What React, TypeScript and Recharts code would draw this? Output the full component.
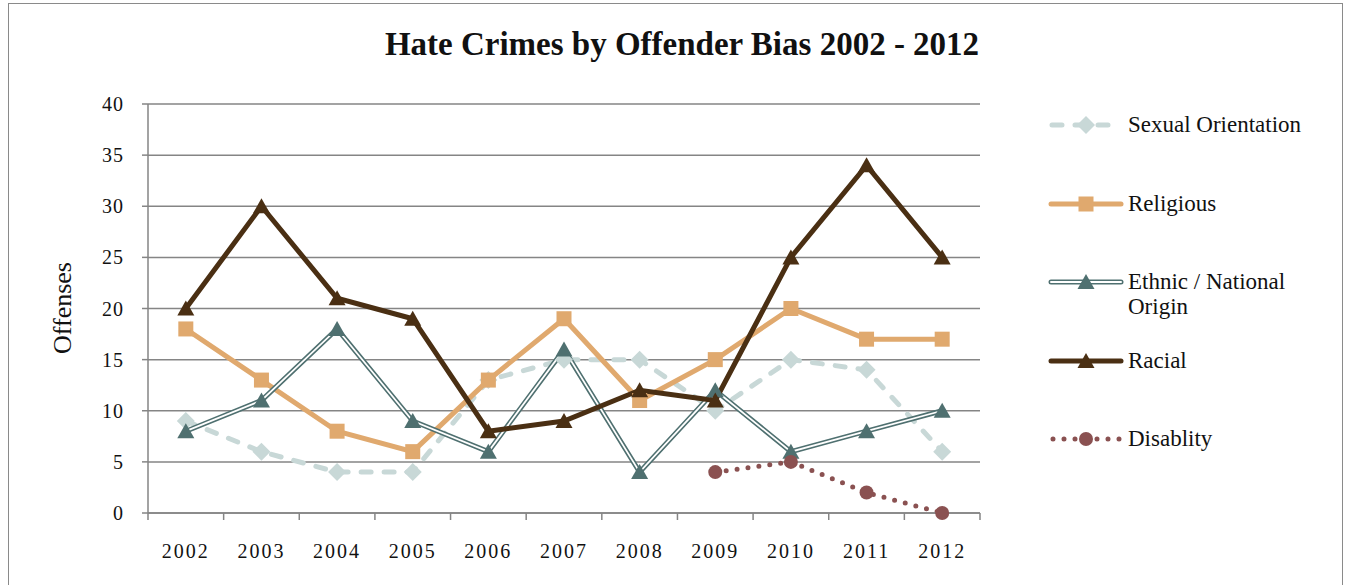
import { ComposedChart, Line, XAxis, YAxis, CartesianGrid } from 'recharts';

const years = ['2002', '2003', '2004', '2005', '2006', '2007', '2008', '2009', '2010', '2011', '2012'];
const sexualOrientation = [9, 6, 4, 4, 13, 15, 15, 10, 15, 14, 6];
const religious = [18, 13, 8, 6, 13, 19, 11, 15, 20, 17, 17];
const ethnic = [8, 11, 18, 9, 6, 16, 4, 12, 6, 8, 10];
const racial = [20, 30, 21, 19, 8, 9, 12, 11, 25, 34, 25];
const disability = [null, null, null, null, null, null, null, 4, 5, 2, 0];
const yTicks = [0, 5, 10, 15, 20, 25, 30, 35, 40];

const data = years.map((year, i) => ({
  year,
  sexual: sexualOrientation[i],
  religious: religious[i],
  ethnic: ethnic[i],
  racial: racial[i],
  disability: disability[i],
}));

const W = 1352;
const H = 585;
const M = { top: 104, right: 372, bottom: 0, left: 0 };
const Y_AXIS_W = 148;
const X_AXIS_H = 72;
const BAND = (W - M.right - Y_AXIS_W) / years.length;

const FONT = '"Liberation Serif", serif';
const GRID = '#858585';
const C_SEX = '#c8d8d7';
const C_REL = '#e0a96e';
const C_ETH = '#4f7070';
const C_RAC = '#4a2f13';
const C_DIS = '#8a5151';

type Shape = 'diamond' | 'square' | 'triangle' | 'circle';

function marker(shape: Shape, color: string, cx: number, cy: number, key?: string) {
  if (shape === 'diamond') {
    const s = 9;
    return <path key={key} d={`M${cx},${cy - s}L${cx + s},${cy}L${cx},${cy + s}L${cx - s},${cy}Z`} fill={color} />;
  }
  if (shape === 'square') {
    const s = 7.5;
    return <rect key={key} x={cx - s} y={cy - s} width={s * 2} height={s * 2} fill={color} />;
  }
  if (shape === 'triangle') {
    return (
      <path key={key} d={`M${cx},${cy - 8}L${cx + 8.5},${cy + 7}L${cx - 8.5},${cy + 7}Z`} fill={color} />
    );
  }
  return <circle key={key} cx={cx} cy={cy} r={7} fill={color} />;
}

const dotFor = (shape: Shape, color: string) => (props: any) => {
  const { cx, cy, index, value } = props;
  if (cx == null || cy == null || value == null || Number.isNaN(cy)) return <g key={`e${index}`} />;
  return marker(shape, color, cx, cy, `d${index}`);
};

const XTick = (props: any) => {
  const { x, y, payload, index } = props;
  const left = x - BAND / 2;
  return (
    <g>
      <line x1={left} x2={left} y1={y} y2={y + 7} stroke={GRID} strokeWidth={1.5} />
      {index === years.length - 1 && (
        <line x1={x + BAND / 2} x2={x + BAND / 2} y1={y} y2={y + 7} stroke={GRID} strokeWidth={1.5} />
      )}
      <text x={x} y={y + 45} textAnchor="middle" fontFamily={FONT} fontSize={20} letterSpacing={2} fill="#111">
        {payload.value}
      </text>
    </g>
  );
};

const legendItems = [
  { name: 'Sexual Orientation', kind: 'sexual' },
  { name: 'Religious', kind: 'religious' },
  { name: 'Ethnic / National Origin', kind: 'ethnic' },
  { name: 'Racial', kind: 'racial' },
  { name: 'Disablity', kind: 'disability' },
];

function LegendIcon({ kind }: { kind: string }) {
  const y = 13;
  return (
    <svg width={76} height={26} style={{ flex: 'none' }}>
      {kind === 'sexual' && (
        <>
          <line x1={4} x2={72} y1={y} y2={y} stroke={C_SEX} strokeWidth={5} strokeDasharray="10 13" strokeLinecap="round" />
          {marker('diamond', C_SEX, 38, y)}
        </>
      )}
      {kind === 'religious' && (
        <>
          <line x1={3} x2={73} y1={y} y2={y} stroke={C_REL} strokeWidth={5} strokeLinecap="round" />
          {marker('square', C_REL, 38, y)}
        </>
      )}
      {kind === 'ethnic' && (
        <>
          <line x1={3} x2={73} y1={y} y2={y} stroke={C_ETH} strokeWidth={5} strokeLinecap="round" />
          <line x1={3} x2={73} y1={y} y2={y} stroke="#fff" strokeWidth={2} strokeLinecap="round" />
          {marker('triangle', C_ETH, 38, y)}
        </>
      )}
      {kind === 'racial' && (
        <>
          <line x1={3} x2={73} y1={y} y2={y} stroke={C_RAC} strokeWidth={5} strokeLinecap="round" />
          {marker('triangle', C_RAC, 38, y)}
        </>
      )}
      {kind === 'disability' && (
        <>
          <line x1={5} x2={72} y1={y} y2={y} stroke={C_DIS} strokeWidth={5} strokeDasharray="0 11" strokeLinecap="round" />
          {marker('circle', C_DIS, 38, y)}
        </>
      )}
    </svg>
  );
}

export default function App() {
  return (
    <div style={{ position: 'absolute', left: 0, top: 0, width: W, height: H, overflow: 'hidden', background: '#fff' }}>
      <div
        style={{
          position: 'absolute',
          left: 8,
          top: 3,
          width: 1335,
          height: 640,
          border: '1px solid #8a8a8a',
          boxSizing: 'border-box',
        }}
      />
      <div
        style={{
          position: 'absolute',
          left: 0,
          width: W,
          top: 26,
          textAlign: 'center',
          fontFamily: FONT,
          fontWeight: 'bold',
          fontSize: 33,
          color: '#111',
          paddingLeft: 6,
        }}
      >
        Hate Crimes by Offender Bias 2002 - 2012
      </div>
      <div
        style={{
          position: 'absolute',
          left: 63,
          top: 308,
          transform: 'translate(-50%, -50%) rotate(-90deg)',
          fontFamily: FONT,
          fontSize: 26,
          color: '#111',
          whiteSpace: 'nowrap',
        }}
      >
        Offenses
      </div>
      <ComposedChart width={W} height={H} data={data} margin={M} style={{ position: 'absolute', left: 0, top: 0 }}>
        <CartesianGrid vertical={false} stroke={GRID} strokeWidth={1.5} />
        <XAxis
          dataKey="year"
          height={X_AXIS_H}
          padding={{ left: BAND / 2, right: BAND / 2 }}
          axisLine={{ stroke: GRID, strokeWidth: 1.5 }}
          tickLine={false}
          tickSize={0}
          tickMargin={0}
          tick={<XTick />}
          interval={0}
        />
        <YAxis
          width={Y_AXIS_W}
          domain={[0, 40]}
          ticks={yTicks}
          interval={0}
          axisLine={{ stroke: GRID, strokeWidth: 1.5 }}
          tickLine={{ stroke: GRID, strokeWidth: 1.5 }}
          tickSize={6}
          tickMargin={18}
          tick={{ fontFamily: FONT, fontSize: 20, fill: '#111', letterSpacing: 1 }}
        />
        <Line
          dataKey="sexual"
          type="linear"
          stroke={C_SEX}
          strokeWidth={5}
          strokeDasharray="10 13"
          strokeLinecap="round"
          dot={dotFor('diamond', C_SEX)}
          activeDot={false}
          isAnimationActive={false}
        />
        <Line
          dataKey="religious"
          type="linear"
          stroke={C_REL}
          strokeWidth={5}
          dot={dotFor('square', C_REL)}
          activeDot={false}
          isAnimationActive={false}
        />
        <Line
          dataKey="ethnic"
          type="linear"
          stroke={C_ETH}
          strokeWidth={5}
          dot={false}
          activeDot={false}
          isAnimationActive={false}
        />
        <Line
          dataKey="ethnic"
          type="linear"
          stroke="#fff"
          strokeWidth={1.8}
          dot={dotFor('triangle', C_ETH)}
          activeDot={false}
          isAnimationActive={false}
        />
        <Line
          dataKey="racial"
          type="linear"
          stroke={C_RAC}
          strokeWidth={5}
          dot={dotFor('triangle', C_RAC)}
          activeDot={false}
          isAnimationActive={false}
        />
        <Line
          dataKey="disability"
          type="linear"
          stroke={C_DIS}
          strokeWidth={5}
          strokeDasharray="0 11"
          strokeLinecap="round"
          dot={dotFor('circle', C_DIS)}
          activeDot={false}
          isAnimationActive={false}
        />
      </ComposedChart>
      <div style={{ position: 'absolute', left: 1048, top: 112, fontFamily: FONT, fontSize: 23, color: '#111' }}>
        {legendItems.map((item) => (
          <div key={item.kind} style={{ display: 'flex', alignItems: 'flex-start', height: 78.5 }}>
            <LegendIcon kind={item.kind} />
            <div style={{ width: 185, lineHeight: '25px', marginLeft: 4, marginTop: 0 }}>{item.name}</div>
          </div>
        ))}
      </div>
    </div>
  );
}
